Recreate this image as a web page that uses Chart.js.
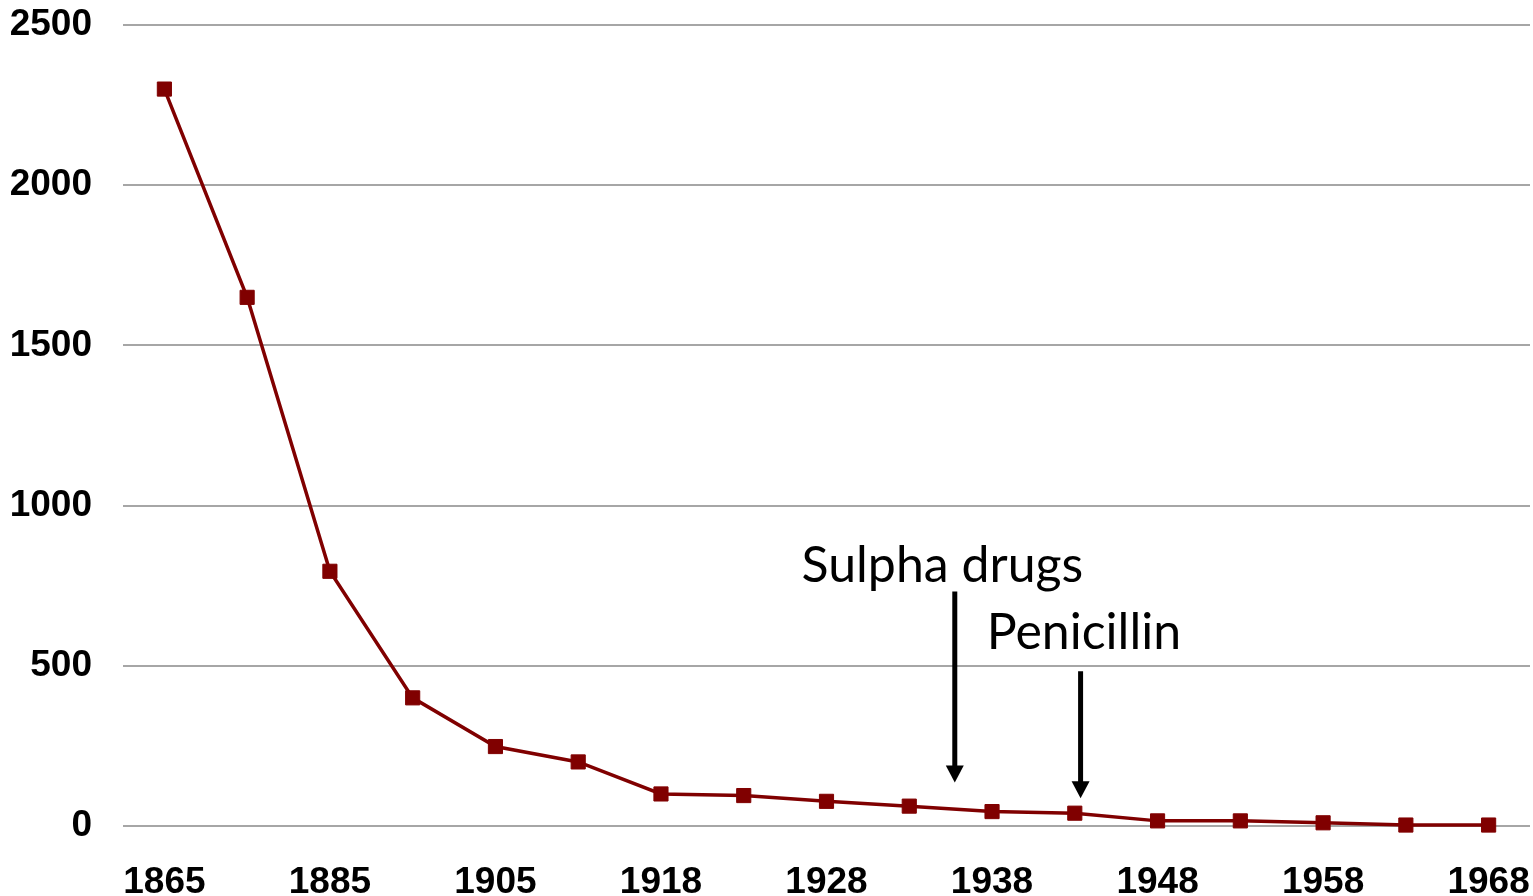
<!DOCTYPE html>
<html>
<head>
<meta charset="utf-8">
<script src="https://cdn.jsdelivr.net/npm/chart.js@4"></script>
<style>
  html, body { margin: 0; padding: 0; background: #fff; overflow: hidden; }
  #wrap { width: 1533px; height: 896px; position: relative; }
  #chart { display: block; }
</style>
</head>
<body>
<div id="wrap"><canvas id="chart"></canvas></div>
<script>
const years = ['1865', '1875', '1885', '1895', '1905', '1912', '1918', '1923', '1928',
               '1933', '1938', '1943', '1948', '1953', '1958', '1963', '1968'];
const deathRate = [2300, 1650, 795, 400, 248, 200, 100, 95, 77, 62, 45, 40, 16, 16, 10, 3, 3];
const yTicks = [0, 500, 1000, 1500, 2000, 2500];

// annotations: label, where the text sits and where the arrow points (category index / y value)
const notes = [
    { text: 'Sulpha drugs', textAt: 9.40, baseline: 761, arrowAt: 9.55, arrowFrom: 732, arrowTo: 136 },
    { text: 'Penicillin', textAt: 11.11, baseline: 552, arrowAt: 11.07, arrowFrom: 483, arrowTo: 87 }
];

const arrowNotes = {
    id: 'arrowNotes',
    afterDatasetsDraw(chart) {
        const { ctx, scales: { x, y } } = chart;
        ctx.save();
        ctx.fillStyle = '#000';
        ctx.strokeStyle = '#000';
        ctx.font = '50px Lato';
        ctx.textAlign = 'center';
        ctx.textBaseline = 'alphabetic';
        notes.forEach(n => {
            ctx.fillText(n.text, x.getPixelForValue(n.textAt), y.getPixelForValue(n.baseline));
            const ax = x.getPixelForValue(n.arrowAt);
            const top = y.getPixelForValue(n.arrowFrom);
            const tip = y.getPixelForValue(n.arrowTo);
            ctx.lineWidth = 5;
            ctx.beginPath();
            ctx.moveTo(ax, top);
            ctx.lineTo(ax, tip - 14);
            ctx.stroke();
            ctx.beginPath();
            ctx.moveTo(ax - 9, tip - 17);
            ctx.lineTo(ax + 9, tip - 17);
            ctx.lineTo(ax, tip);
            ctx.closePath();
            ctx.fill();
        });
        ctx.restore();
    }
};

const tickFont = { family: 'Liberation Sans', size: 37, weight: 'bold' };

new Chart(document.getElementById('chart'), {
    type: 'line',
    data: {
        labels: years,
        datasets: [{
            data: deathRate,
            borderColor: '#800000',
            backgroundColor: '#800000',
            borderWidth: 3.5,
            pointStyle: 'rect',
            pointRadius: 10,
            pointBorderWidth: 1,
            pointBorderColor: '#800000',
            tension: 0,
            clip: false
        }]
    },
    options: {
        responsive: true,
        maintainAspectRatio: false,
        animation: false,
        layout: { autoPadding: false, padding: { top: 25, right: 3, left: 0, bottom: 0 } },
        plugins: {
            legend: { display: false },
            tooltip: { enabled: false }
        },
        scales: {
            x: {
                offset: true,
                grid: { display: false },
                border: { display: false },
                afterFit(scale) {
                    scale.height = 70;
                    scale.paddingLeft = 0;
                    scale.paddingRight = 0;
                },
                ticks: {
                    autoSkip: false,
                    maxRotation: 0,
                    padding: 27,
                    color: '#000',
                    font: tickFont,
                    callback: (v, i) => (i % 2 === 0 ? years[i] : '')
                }
            },
            y: {
                min: 0,
                max: 2500,
                afterFit(scale) {
                    scale.width = 123;
                    scale.paddingTop = 0;
                    scale.paddingBottom = 0;
                },
                afterBuildTicks(scale) { scale.ticks = yTicks.map(v => ({ value: v })); },
                grid: { color: '#a6a6a6', lineWidth: 2, drawTicks: false },
                border: { display: false },
                ticks: {
                    padding: 31,
                    color: '#000',
                    font: tickFont,
                    callback: v => String(v)
                }
            }
        }
    },
    plugins: [arrowNotes]
});
</script>
</body>
</html>
